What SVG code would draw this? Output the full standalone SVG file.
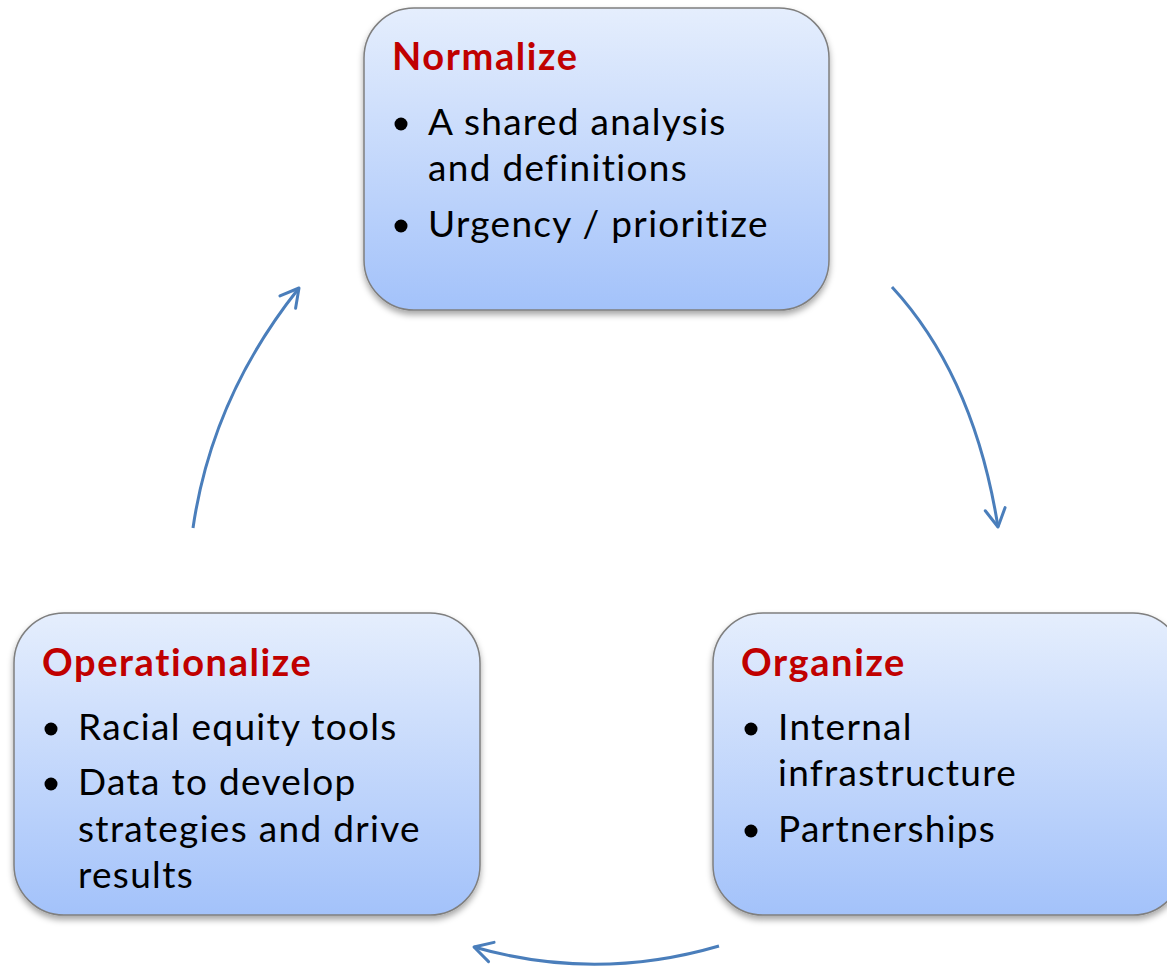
<svg xmlns="http://www.w3.org/2000/svg" width="1167" height="966" viewBox="0 0 1167 966">
<defs>
<linearGradient id="boxGrad" x1="0" y1="0" x2="0" y2="1">
<stop offset="0" stop-color="#e5eefd"/>
<stop offset="1" stop-color="#a3c2fa"/>
</linearGradient>
<filter id="shadow" x="-10%" y="-10%" width="120%" height="125%">
<feDropShadow dx="0" dy="4" stdDeviation="3" flood-color="#000" flood-opacity="0.35"/>
</filter>
<marker id="arrow" markerUnits="userSpaceOnUse" markerWidth="40" markerHeight="40" refX="0" refY="0" viewBox="-20 -20 40 40" orient="auto">
<path d="M-18,-10 L0,0 L-18,10" fill="none" stroke="#4a7ebb" stroke-width="3" stroke-linecap="round" stroke-linejoin="round"/>
</marker>
</defs>
<style>
.box{fill:url(#boxGrad);stroke:#7f7f7f;stroke-width:1.5;filter:url(#shadow)}
.title{font-family:Lato,"Liberation Sans",sans-serif;font-weight:bold;font-size:38px;letter-spacing:1.6px;fill:#c00000}
.item{font-family:Lato,"Liberation Sans",sans-serif;font-size:37px;letter-spacing:1.3px;fill:#000}
.bullet{fill:#000}
.conn{fill:none;stroke:#4a7ebb;stroke-width:3;marker-end:url(#arrow)}
</style>
<g id="connectors">
<path class="conn" d="M892,287 Q974,376 998,527"/>
<path class="conn" d="M719,946 Q596,982 474,947"/>
<path class="conn" d="M193,528 Q212,397 299,288"/>
</g>
<g id="normalize">
<rect class="box" x="364" y="8" width="465" height="302" rx="50" ry="50"/>
<text class="title" x="392" y="70">Normalize</text>
<circle class="bullet" cx="401" cy="124" r="6.5"/>
<text class="item" x="428" y="135">A shared analysis</text>
<text class="item" x="428" y="181">and definitions</text>
<circle class="bullet" cx="401" cy="226" r="6.5"/>
<text class="item" x="428" y="237">Urgency / prioritize</text>
</g>
<g id="organize">
<rect class="box" x="713" y="613" width="470" height="302" rx="50" ry="50"/>
<text class="title" x="741" y="676">Organize</text>
<circle class="bullet" cx="751" cy="729" r="6.5"/>
<text class="item" x="778" y="740">Internal</text>
<text class="item" x="778" y="786">infrastructure</text>
<circle class="bullet" cx="751" cy="831" r="6.5"/>
<text class="item" x="778" y="842">Partnerships</text>
</g>
<g id="operationalize">
<rect class="box" x="14" y="613" width="466" height="302" rx="50" ry="50"/>
<text class="title" x="42" y="676">Operationalize</text>
<circle class="bullet" cx="51" cy="729" r="6.5"/>
<text class="item" x="78" y="740">Racial equity tools</text>
<circle class="bullet" cx="51" cy="784" r="6.5"/>
<text class="item" x="78" y="795">Data to develop</text>
<text class="item" x="78" y="842">strategies and drive</text>
<text class="item" x="78" y="888">results</text>
</g>
</svg>
